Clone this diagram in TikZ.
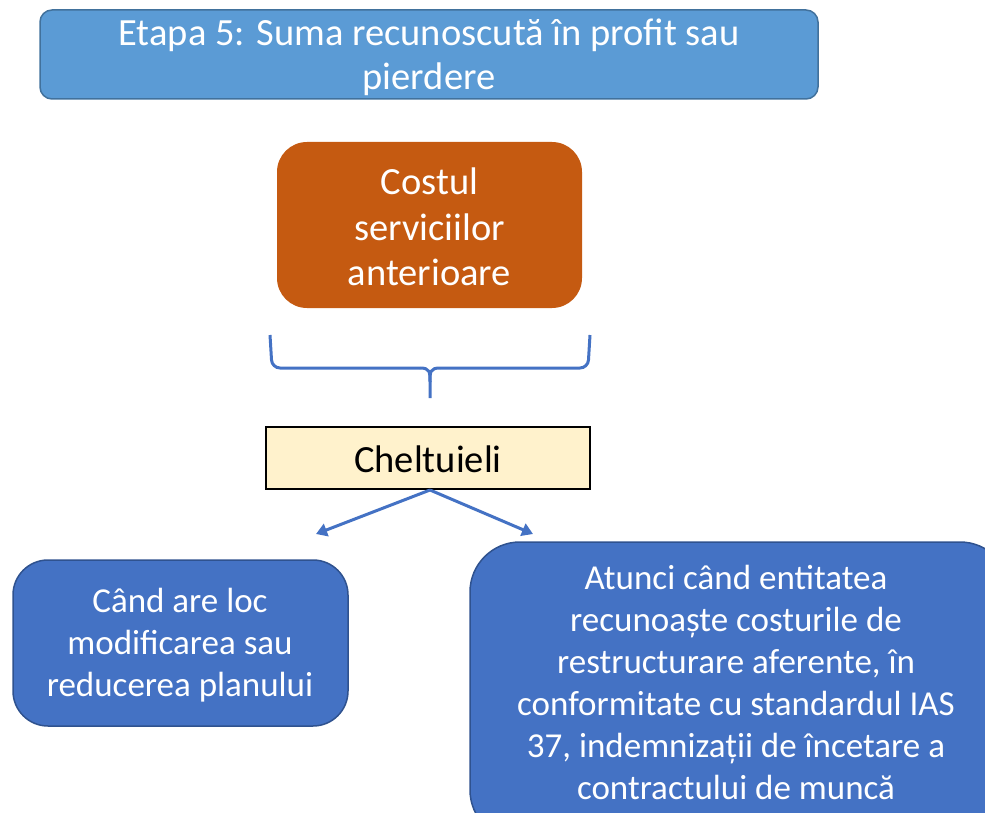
\documentclass[tikz,border=0pt]{standalone}
\usepackage{fontspec}
\setmainfont{Carlito}
\usetikzlibrary{arrows.meta}
\definecolor{topfill}{HTML}{5B9BD5}
\definecolor{topdraw}{HTML}{41719C}
\definecolor{orangefill}{HTML}{C55A11}
\definecolor{bluefill}{HTML}{4472C4}
\definecolor{bluedraw}{HTML}{2F528F}
\definecolor{creamfill}{HTML}{FFF2CC}
\begin{document}
\begin{tikzpicture}[x=1pt,y=-1pt,
  txt/.style={font=\fontsize{35}{42}\selectfont, align=center, inner sep=0pt},
  bigtxt/.style={font=\fontsize{38.5}{44}\selectfont, align=center, inner sep=0pt},
  titlebox/.style={draw=topdraw, line width=1.5pt, fill=topfill, rounded corners=12pt},
  orangebox/.style={fill=orangefill, rounded corners=30pt},
  bluebox/.style={draw=bluedraw, line width=1.5pt, fill=bluefill},
  creambox/.style={draw=black, line width=2pt, fill=creamfill},
  link/.style={draw=bluefill, line width=3pt},
  arr/.style={link, -{Triangle[length=11pt,width=13pt]}}
]
\useasboundingbox (0,0) rectangle (985,813);
\clip (0,0) rectangle (985,813);
% title
\draw[titlebox] (40,10) rectangle (818,99);
\node[bigtxt, text=white] (title) at (429,57) {Etapa 5: Suma recunoscută în profit sau\\pierdere};
% orange
\fill[orangebox] (277,142) rectangle (582,308);
\node[bigtxt, text=white, font=\fontsize{38.5}{45.5}\selectfont] (cost) at (429.5,227) {Costul\\serviciilor\\anterioare};
% brace
\draw[link, rounded corners=8pt] (270,335) -- (272,368) -- (420,368);
\draw[link] (420,368) .. controls (430,368) and (430,372) .. (430,382) -- (430,398);
\draw[link, rounded corners=8pt] (590,335) -- (588,368) -- (440,368);
\draw[link] (440,368) .. controls (430,368) and (430,372) .. (430,382);
% cheltuieli
\draw[creambox] (266,427) rectangle (590,489);
\node[bigtxt] (chelt) at (428,459) {Cheltuieli};
\coordinate (top) at (430,490);
\coordinate (la) at (316,534);
\coordinate (ra) at (533,534);
\draw[arr] (top) -- (la);
\draw[arr] (top) -- (ra);
% left box
\draw[bluebox, rounded corners=35pt] (13,560) rectangle (348,726);
\node[txt, text=white] (left) at (180,645) {Când are loc\\modificarea sau\\reducerea planului};
% right box
\draw[bluebox, rounded corners=50pt] (470,542) rectangle (1010,840);
\node[txt, text=white] (right) at (736,682) {Atunci când entitatea\\recunoaște costurile de\\restructurare aferente, în\\conformitate cu standardul IAS\\37, indemnizații de încetare a\\contractului de muncă};
\end{tikzpicture}
\end{document}
